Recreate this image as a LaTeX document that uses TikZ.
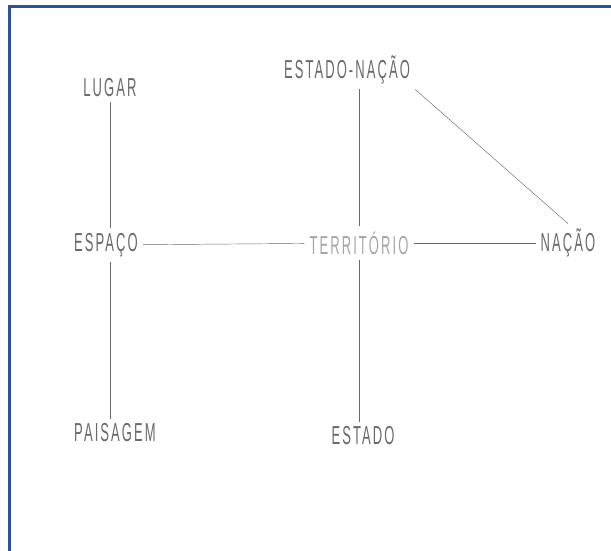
\documentclass[tikz,border=0pt]{standalone}
\usepackage{fontspec}
\newfontfamily\hand[FakeStretch=0.5,LetterSpace=8]{Liberation Sans}
\definecolor{frameblue}{RGB}{47,84,150}
\definecolor{pencil}{RGB}{105,105,105}
\definecolor{faint}{RGB}{165,165,165}
\tikzset{
  word/.style={font=\hand\fontsize{26}{26}\selectfont,text=pencil,inner sep=5pt},
  faintword/.style={word,text=faint},
  stroke/.style={draw=pencil,line width=.45pt}
}
\begin{document}
\begin{tikzpicture}[x=1pt,y=-1pt]
    \useasboundingbox (0,0) rectangle (611,550);
    \clip (0,0) rectangle (611,550);
    \draw[frameblue,line width=3pt] (9,6) rectangle (640,580);

      \path (110, 88) node[word] (lugar) {LUGAR};
      \path (347, 70) node[word] (estnacao) {ESTADO-NAÇÃO};
      \path (106,245) node[word] (espaco) {ESPAÇO};
      \path (359,243) node[faintword] (territorio) {TERRITÓRIO};
      \path (568,243) node[word] (nacao) {NAÇÃO};
      \path (115,433) node[word] (paisagem) {PAISAGEM};
      \path (363,436) node[word] (estado) {ESTADO};

      \draw[stroke] (lugar.south) -- (espaco.north -| lugar); %lugar-espaco
      \draw[stroke] (espaco.south -| lugar) -- (paisagem.north -| lugar); %espaco-paisagem
      \draw[stroke] (espaco) -- (territorio); %espaco-territorio
      \draw[stroke] (territorio) -- (nacao); %territorio-nacao
      \draw[stroke] (estnacao.south -| territorio) -- (territorio.north); %estnacao-territorio
      \draw[stroke] (territorio.south) -- (estado.north -| territorio); %territorio-estado
      \draw[stroke] (estnacao.south east) -- (nacao.north); %estnacao-nacao

    \end{tikzpicture}
\end{document}
